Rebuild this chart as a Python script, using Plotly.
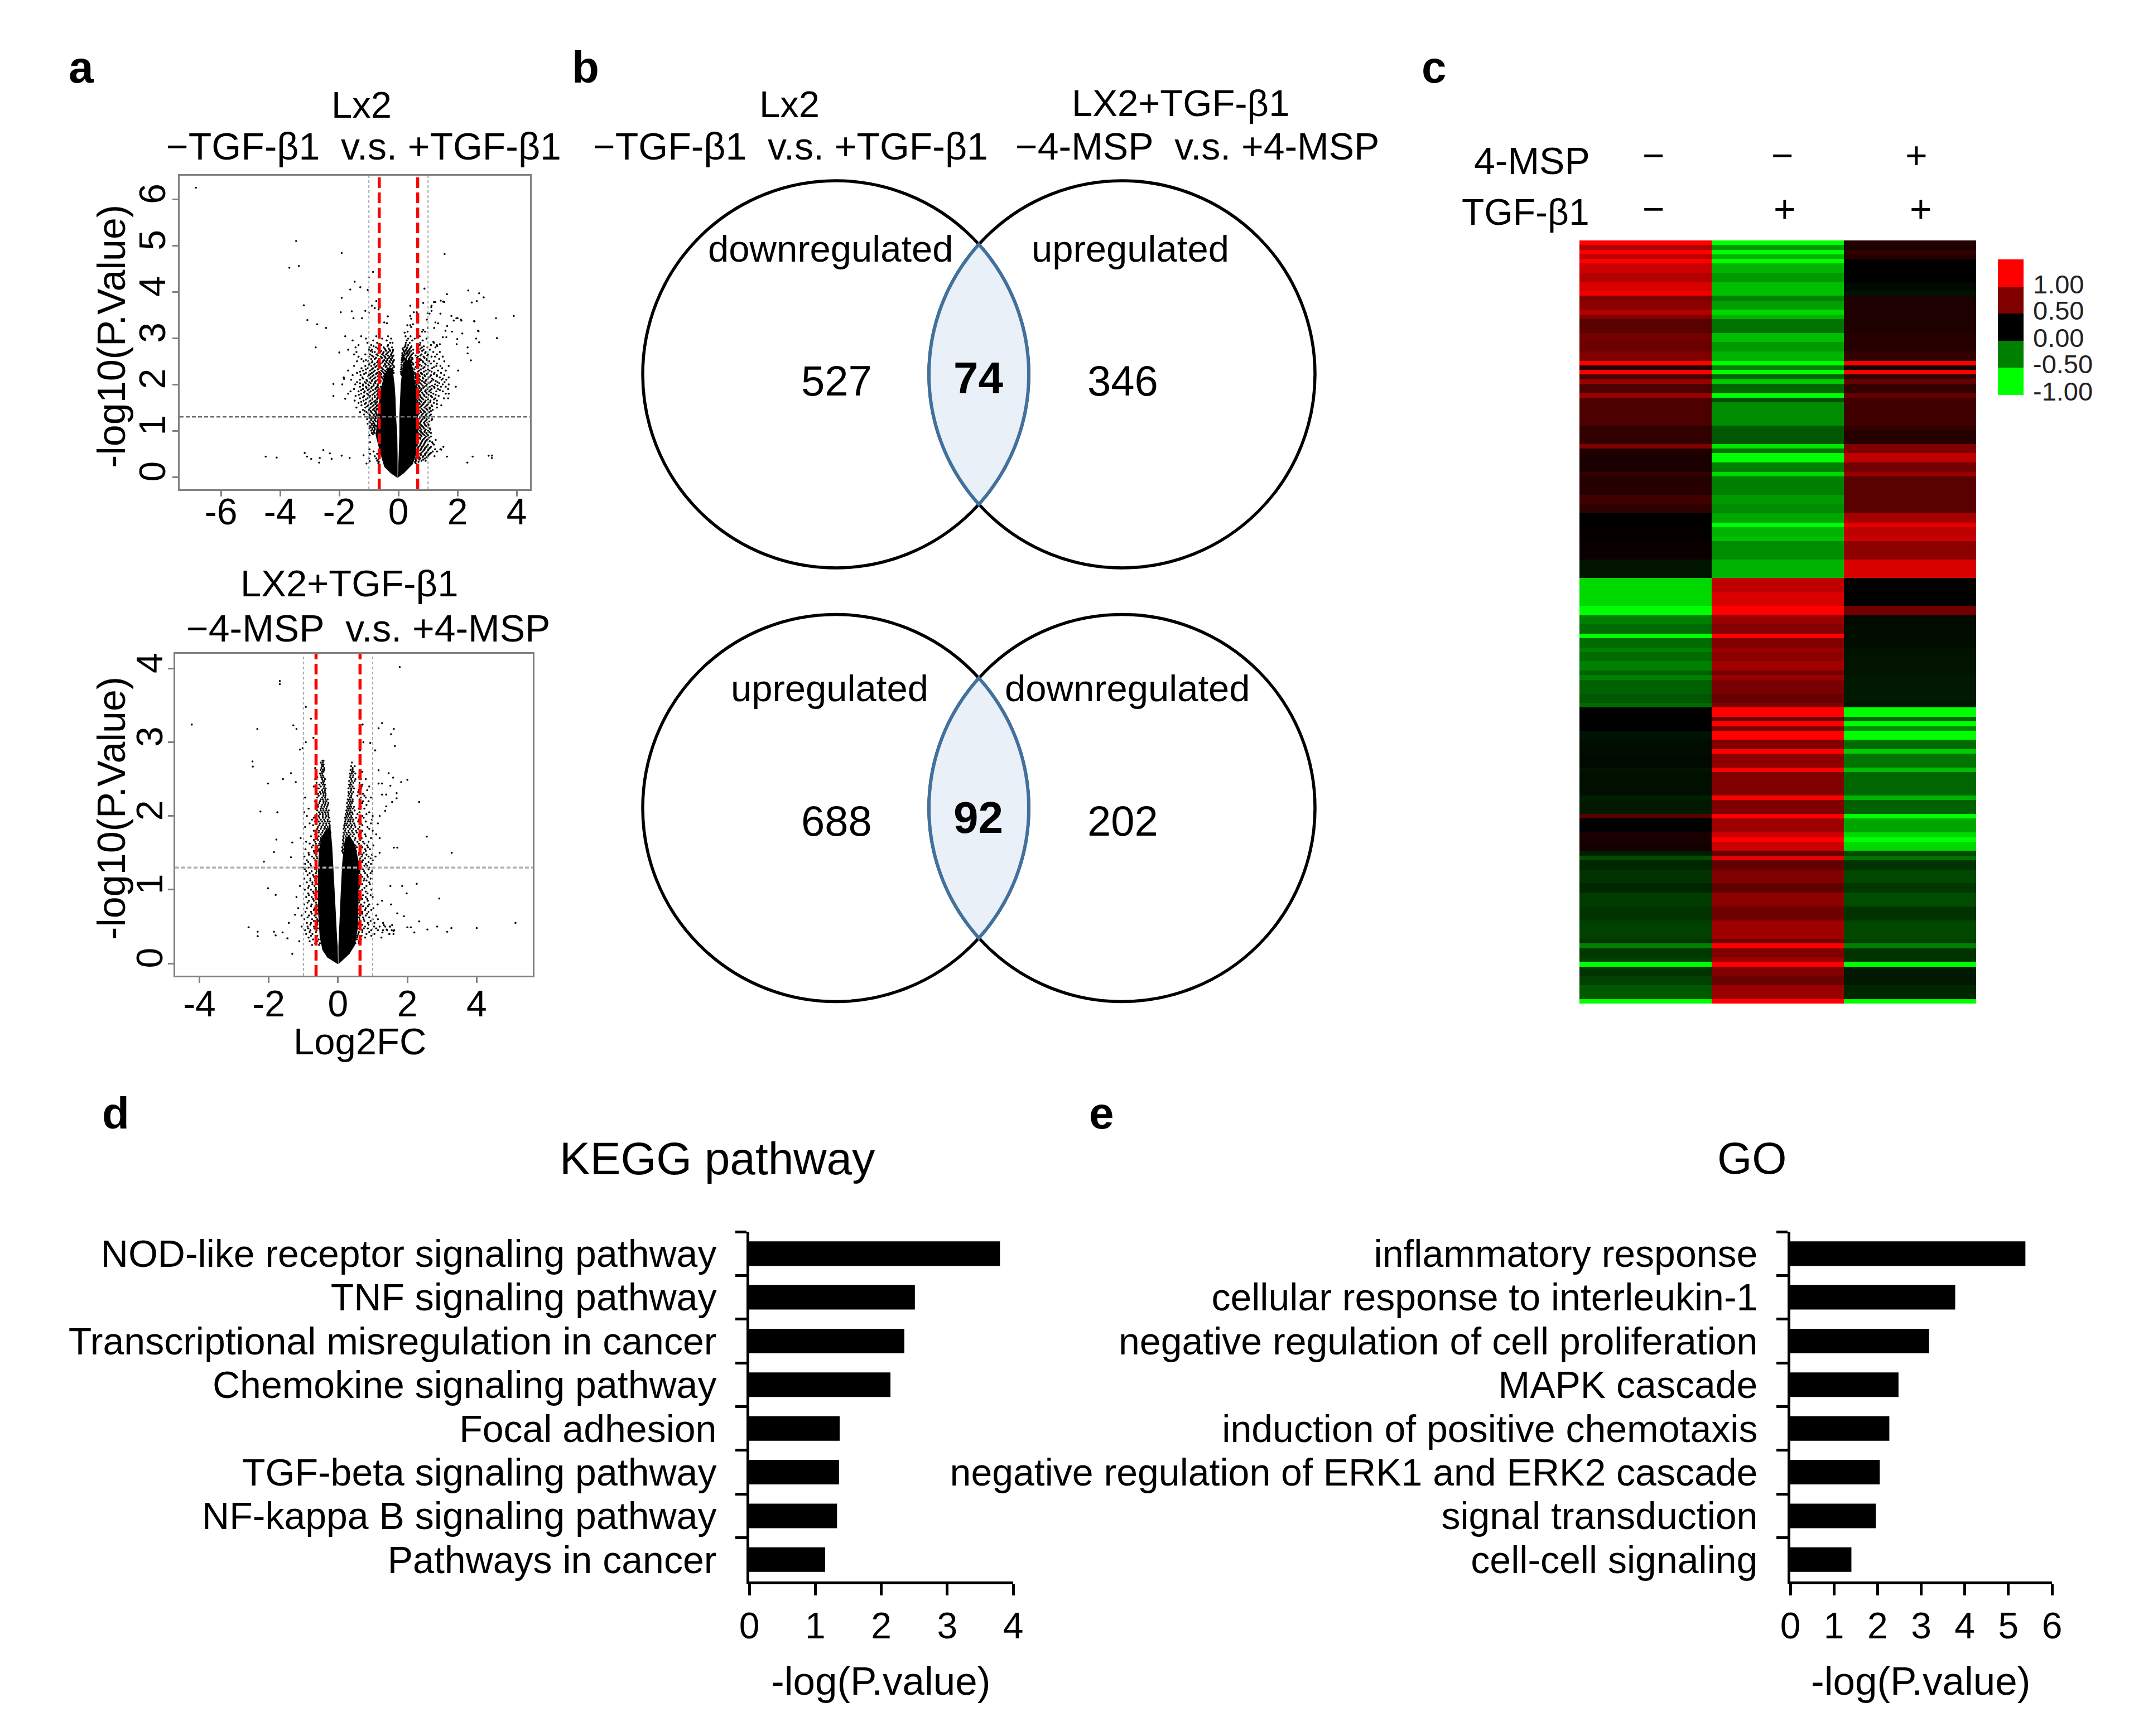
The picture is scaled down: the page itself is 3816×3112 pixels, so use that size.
import numpy as np
import plotly.graph_objects as go

W, H = 3816, 3112
FONT = "Liberation Sans"

# ---------- panel a volcano: -log10(P) rows, each with the log2FC values read at that level
a_outliers = [(-6.85,6.25),(-3.46,5.10),(-1.92,4.84),(1.56,4.82),(-3.69,4.52),(-3.37,4.56),(-.86,4.43),(-1.0,4.31),
 (-1.48,4.22),(-1.29,4.10),(-1.63,4.05),(-1.04,4.04),(-1.92,3.87),(-3.2,3.71),(.88,4.07),(1.64,3.95),(2.36,4.03),
 (2.73,3.97),(2.88,3.88),(2.65,3.80),(2.48,3.77),(1.51,3.79),(1.2,3.78),(1.11,3.67),(1.05,3.53),(1.79,3.48),(1.96,3.43),
 (2.11,3.40),(2.56,3.37),(3.3,3.43),(3.9,3.48),(3.33,3.0),(2.71,3.15),(2.63,2.99),(2.73,2.91),(2.34,2.8),(2.34,2.67),
 (2.45,2.52),(-3.08,3.39),(-2.75,3.30),(-2.45,3.22),(-2.8,2.8),(-2.0,2.69),(-1.8,3.04),(-1.95,3.56),(-1.58,3.58),
 (-1.52,3.43),(-1.12,3.59),(-1.23,3.43),(-2.2,2.01),(-2.2,1.75),(-1.84,2.12),(-1.8,1.69),(1.94,1.95),(2.02,2.3),
 (-4.49,.44),(-4.12,.42),(-3.17,.52),(-3.09,.44),(-2.95,.39),(-2.68,.31),(-2.66,.41),(-2.54,.58),(-2.32,.51),(-2.26,.39),
 (-1.92,.46),(-1.65,.41),(-1.18,.47),(-1.08,.29),(-.97,.34),(2.33,.31),(2.51,.44),(3.05,.46),(3.16,.46),(3.16,.41),
 (1.64,.44),(1.45,.59),(-.67,3.62),(-.36,3.47),(-.39,3.32),(-.48,3.34),(.40,3.7),(.40,3.48),(.43,3.42),(.52,3.56),(.62,3.56),
 (.30,3.28),(.40,3.28),(.49,3.30),(.43,3.24),(.21,3.12),(.31,3.14),(.84,3.18),(.9,3.14),(.8,3.14),(1.12,3.7),(1.12,3.59),
 (.84,3.76),(1.25,3.78),(1.43,3.81),(1.55,3.78),(1.42,3.53),(1.25,3.34),(1.34,3.32),(1.21,3.22),(1.65,3.26),(1.87,3.38),
 (2.0,3.43),(2.13,3.38),(1.81,3.14),(2.16,3.1),(1.59,3.16),(1.5,3.02),(1.62,3.02),(2.57,3.36),(2.69,3.16),(1.99,2.98),
 (1.97,2.87),(1.18,2.92),(1.4,2.87),(1.31,2.83),(.99,3.22),(.99,3.54),(.96,3.4),(-.9,3.7),(-.8,3.65),(-.75,3.8),(-1.0,3.55)]
a_rows = {
 3.04:[-1.26,-.75,-.35,.24,.41,.72],2.99:[-1.1,-.55,-.25,.33,.55,.95],
 2.95:[-1.55,-.85,-.4,.28,.47,.82],2.9:[-1.05,-.72,-.28,-.2,.25,.38,.74,1.2],
 2.85:[-1.35,-.92,-.58,-.35,.24,.33,.72,1.1,1.3],2.8:[-1.45,-.98,-.76,-.5,-.22,.2,.3,.42,.8,.98,1.25],
 2.75:[-1.7,-1.0,-.9,-.65,-.44,-.3,-.18,.16,.26,.36,.5,.68,.85,1.06],2.7:[-1.42,-.88,-.8,-.62,-.5,-.34,-.2,.2,.3,.38,.7,.92,1.18,1.4],
 2.65:[-1.5,-1.12,-.96,-.74,-.55,-.42,-.25,.15,.24,.34,.45,.78,1.0,1.3],2.6:[-1.35,-1.0,-.85,-.6,-.46,-.3,-.2,.16,.28,.4,.66,.85,1.12,1.24,1.5],
 2.55:[-1.25,-.92,-.8,-.66,-.38,-.26,.15,.22,.35,.48,.72,.95,1.38],2.5:[-1.4,-1.18,-1.02,-.88,-.7,-.52,-.42,-.3,-.18,.14,.24,.32,.42,.7,.82,1.04,1.2,1.55],
 2.45:[-.98,-.8,-.6,-.46,-.34,-.22,.18,.28,.38,.5,.65,.9,1.1,1.3],2.4:[-1.5,-1.12,-.92,-.74,-.5,-.4,-.26,-.16,.16,.22,.34,.44,.68,.78,1.0,1.28,1.42,1.7],
 2.35:[-1.25,-1.03,-.86,-.66,-.55,-.36,-.2,.12,.3,.48,.62,.84,1.14,1.48],2.3:[-1.7,-1.2,-.96,-.8,-.58,-.46,-.3,-.18,.14,.26,.4,.7,.92,1.05,1.34,1.6],
 2.25:[-1.4,-1.1,-.9,-.72,-.62,-.5,-.35,-.16,.1,.2,.55,.76,1.0,1.22,1.44],2.2:[-1.55,-1.28,-1.0,-.84,-.66,-.44,-.28,.12,.6,.7,.88,1.1,1.3,1.55],
 2.15:[-1.85,-1.22,-.94,-.78,-.56,.58,.66,.82,1.02,1.4,1.7],2.1:[-1.6,-1.3,-1.08,-.88,-.7,-.5,.64,.74,.94,1.18,1.46,1.62],
 2.05:[-1.4,-1.14,-.98,-.8,-.62,.6,.7,.86,1.08,1.32,1.56],2.0:[-1.9,-1.46,-1.2,-1.02,-.84,-.7,.62,.78,.96,1.24,1.5,1.7],
 1.95:[-1.3,-1.1,-.9,-.72,-.6,.6,.7,.88,1.06,1.2,1.44,1.6],1.9:[-1.5,-1.2,-1.0,-.78,-.66,.64,.78,.98,1.12,1.34,1.68],
 1.85:[-1.62,-1.35,-1.14,-.94,-.74,.62,.72,.9,1.04,1.28,1.5],1.8:[-1.7,-1.26,-1.06,-.84,-.7,.66,.82,.96,1.18,1.6,1.7],
 1.75:[-1.45,-1.16,-.96,-.8,.62,.74,.88,1.1,1.36],1.7:[-1.3,-1.04,-.88,-.72,.68,.8,1.0,1.24,1.54,1.68],
 1.65:[-1.48,-1.18,-.95,-.78,.64,.74,.92,1.08,1.3],1.6:[-1.35,-1.1,-.9,-.76,.6,.7,.86,1.02,1.2],
 1.55:[-1.25,-1.02,-.84,-.72,.66,.8,.96,1.12,1.45],1.5:[-1.42,-1.12,-.94,-.78,.62,.72,.88,1.06,1.3],
 1.45:[-1.2,-1.0,-.86,-.74,.68,.82,.98,1.16],1.4:[-1.3,-1.08,-.92,-.76,.64,.76,.9,1.04],
 1.35:[-1.16,-.98,-.82,-.72,.66,.8,.94,1.1],1.3:[-1.0,-.9,-.78,.62,.74,.86,1.0],
 1.25:[-1.06,-.92,-.8,.68,.82,.96,1.14],1.2:[-.98,-.86,-.76,.64,.76,.9,1.04],
 1.15:[-1.04,-.9,-.82,.62,.72,.88,1.0],1.1:[-.96,-.84,-.76,.68,.8,.94],
 1.05:[-.98,-.88,-.8,.64,.74,.86,1.06],1.0:[-.92,-.82,.62,.72,.9,1.0],
 .95:[-.9,-.8,.66,.8,.94,1.1],.9:[-.98,.64,.76,.88,1.0],.85:[.62,.72,.9,1.04],.8:[.66,.82,.96,1.26],
 .75:[-.96,.64,.78,.9,1.14],.7:[.62,.74,.86,1.0,1.2],.65:[.68,.8,.94,1.1,1.52],.6:[-.98,.64,.76,.88,1.02,1.24,1.42],
 .55:[-.84,.66,.82,.98,1.16,1.3],.5:[-.72,-.96,.62,.74,.9,1.06],.45:[-.8,-.66,.68,.84,1.0,1.22],
 .4:[-1.0,-.75,.6,.74,.9],.35:[-.72,.6,.78,.92],.3:[-.68,.58]}
a_rows_between = {
 2.825:[-.84,-.37,.23,.44,.86],2.775:[-.7,-.47,-.33,.14,.28,.39,.75],
 2.725:[-.94,-.58,-.42,-.28,-.19,.18,.24,.33,.43,.62,.8],2.675:[-.68,-.52,-.38,-.23,.13,.21,.29,.37,.5,.9],
 2.625:[-.9,-.7,-.5,-.36,-.24,-.17,.13,.2,.32,.42,.58,.74,.98],2.575:[-.76,-.56,-.44,-.32,-.21,.12,.19,.27,.38,.46,.62,.88],
 2.525:[-1.1,-.64,-.48,-.37,-.24,-.15,.11,.18,.26,.35,.44,.76,.96],2.475:[-.9,-.72,-.54,-.4,-.28,-.19,.11,.2,.3,.4,.46,.6,.84],
 2.425:[-1.0,-.82,-.68,-.45,-.32,-.2,.1,.17,.25,.37,.5,.72,.92],2.375:[-.78,-.6,-.43,-.29,-.15,.1,.18,.28,.4,.58,.88,1.2],
 2.325:[-1.1,-.9,-.7,-.52,-.38,-.22,.09,.2,.32,.54,.76,1.0],2.275:[-1.3,-.84,-.66,-.54,-.42,-.24,.08,.16,.5,.66,.86,1.12],
 2.225:[-1.16,-.95,-.76,-.58,-.47,-.3,.09,.56,.64,.8,.96,1.2],2.175:[-1.02,-.88,-.7,-.6,-.5,-.36,.58,.72,.9,1.08,1.3],
 2.125:[-1.2,-.96,-.82,-.64,-.54,.6,.7,.84,1.0,1.14,1.5],2.075:[-1.06,-.9,-.76,-.6,.58,.68,.8,.92,1.12,1.26],
 2.025:[-1.3,-1.1,-.94,-.78,-.66,.56,.66,.74,.9,1.02,1.38],1.975:[-1.2,-1.0,-.84,-.7,.58,.68,.82,.94,1.14,1.32],
 1.925:[-1.08,-.92,-.76,-.68,.62,.72,.84,1.0,1.22],1.875:[-1.26,-1.04,-.86,-.7,.6,.76,.92,1.08,1.4],
 1.825:[-1.16,-.98,-.8,-.68,.6,.7,.8,.94,1.1],1.775:[-1.34,-1.02,-.88,-.72,.64,.72,.86,1.02,1.26],
 1.725:[-1.2,-.98,-.8,-.7,.62,.76,.94,1.14],1.675:[-1.1,-.88,-.72,.6,.7,.84,1.0,1.2],1.625:[-1.26,-1.0,-.82,-.72,.64,.78,.9,1.08],
 1.575:[-1.14,-.94,-.78,.62,.72,.84,1.0,1.3],1.525:[-1.06,-.88,-.74,.64,.76,.92,1.14],1.475:[-.98,-.82,-.72,.62,.78,.94,1.06],
 1.425:[-1.14,-.94,-.8,.66,.74,.86,1.1],1.375:[-1.02,-.88,-.76,.62,.7,.84,.98],1.325:[-.96,-.84,-.74,.64,.78,.92,1.06],
 1.275:[-.98,-.86,-.76,.62,.72,.88,1.02],1.225:[-.92,-.8,.66,.78,.94,1.12],1.175:[-.96,-.84,.62,.74,.86,.98],
 1.125:[-.9,-.8,.66,.76,.9,1.02],1.075:[-.94,-.82,.62,.72,.84,1.0],1.025:[-.88,-.8,.66,.78,.92,1.08],.975:[-.84,.64,.76,.88,1.04],
 .925:[-.86,.62,.72,.84,.98],.875:[.66,.78,.94,1.1],.825:[.62,.74,.86,1.0],.775:[.66,.8,.92,1.06],.725:[.64,.76,.88,1.16],
 .675:[.62,.72,.84,.98],.625:[.66,.78,.9,1.06],.575:[.64,.74,.86,1.0],.525:[.62,.78,.94,1.1],.475:[.64,.76,.9,1.02],
 .425:[.6,.7,.82,.96],.375:[-.68,.58,.7,.84],.325:[-.66,.56,.68]}
# outline of the solid black core of each wing
a_core_left = [(-.03,-.02),(-.26,.08),(-.48,.22),(-.61,.50),(-.77,.90),(-.70,1.31),(-.64,1.71),(-.58,1.95),(-.48,2.2),(-.35,2.35),(-.2,2.35),(-.13,2.0),(-.1,1.71),(-.08,1.31),(-.04,.90),(-.03,.50),(-.03,.14)]
a_core_right = [(-.01,.14),(.01,.5),(.03,.9),(.03,1.31),(.05,1.71),(.08,2.03),(.14,2.35),(.22,2.5),(.4,2.55),(.52,2.25),(.6,1.85),(.62,1.31),(.62,.9),(.6,.5),(.49,.28),(.18,.08),(-.03,-.02)]

# ---------- panel a lower volcano
b_outliers = [(-4.22,3.24),(-2.33,3.18),(-1.68,3.83),(-1.68,3.79),(1.78,4.02),(-1.29,3.23),(-1.2,3.18),(-.93,3.48),(-.78,3.32),
 (-2.47,2.74),(-2.46,2.67),(-.93,3.0),(-1.02,2.92),(-1.1,2.9),(-.71,3.06),(-2.02,2.44),(-1.59,2.5),(-1.36,2.58),(-1.22,2.46),
 (-2.24,2.06),(-1.75,2.05),(1.27,3.26),(1.17,3.19),(1.61,3.18),(1.53,3.11),(1.64,2.95),(.93,2.99),(.73,3.0),(.71,3.24),(1.07,2.89),(.63,2.89),
 (1.17,2.62),(1.46,2.58),(1.59,2.52),(2.0,2.49),(1.82,2.46),(1.17,2.44),(1.27,2.44),(1.51,2.41),(1.27,2.29),(1.39,2.29),(1.69,2.31),
 (1.69,2.24),(1.56,2.19),(2.34,2.19),(1.39,2.13),(1.36,2.07),(2.56,1.72),(3.28,1.5),(1.61,1.57),(1.71,1.57),(-2.14,1.38),(-1.85,1.51),
 (-1.78,1.68),(-1.32,1.64),(-1.36,1.44),(-2.02,1.02),(-1.8,.93),(2.27,1.08),(1.85,1.05),(1.98,.95),(2.92,.88),(1.51,1.05),(1.27,.85),
 (1.53,.8),(1.71,.68),(1.9,.64),(2.58,.46),(-2.58,.49),(-2.32,.43),(-2.32,.37),(-1.8,.38),(-1.85,.43),(-1.6,.42),(-1.46,.34),(-1.12,.3),
 (-1.32,.13),(-1.42,.55),(-1.24,.66),(2.34,.57),(2.0,.49),(2.1,.49),(2.2,.42),(2.86,.5),(3.15,.43),(3.27,.48),(4.0,.48),(5.12,.55),
 (1.4,.46),(1.5,.5),(1.6,.44),(1.32,.52),(1.28,.42),(1.48,.4),(1.56,.52)]
b_rows = {
 2.75:[-.45,-.42],2.7:[-.62,-.47,-.42],2.65:[-.48,-.4,-.66,.42],2.6:[-.64,-.46,-.42,.4,.45,.7],2.55:[-.5,-.44,.36,.44],
 2.5:[-.66,-.46,-.38,.38,.5,.66,.8],2.45:[-.62,-.48,-.42,.36,.44,.62],2.4:[-.7,-.5,-.4,.34,.42,.68,.9],2.35:[-.62,-.46,-.38,.38,.6,.84],
 2.3:[-.58,-.5,-.42,-.36,.32,.4,.62,.72],2.25:[-.95,-.6,-.46,-.38,.34,.38,.66,.8,.95],2.2:[-.66,-.52,-.42,-.34,.3,.36,.42,.72,.88],
 2.15:[-.58,-.46,-.38,-.3,.3,.36,.64,.82],2.1:[-.85,-.62,-.5,-.44,-.34,.28,.34,.42,.6,.76],2.05:[-.98,-.55,-.46,-.38,-.3,.26,.34,.4,.62,.9],
 2.0:[-.9,-.66,-.56,-.44,-.34,-.28,.24,.3,.38,.7,1.0,1.2],1.95:[-.75,-.6,-.5,-.4,-.3,.22,.3,.36,.44,.6,.98],
 1.9:[-.82,-.62,-.52,-.42,-.34,-.26,.2,.26,.36,.46,.66,.95,1.15],1.85:[-.95,-.58,-.48,-.38,-.3,-.24,.18,.28,.38,.5,.62,.85],
 1.8:[-.7,-.55,-.44,-.32,-.26,.2,.3,.4,.52,.7,1.0],1.75:[-.66,-.5,-.4,-.3,-.24,.18,.26,.36,.46,.6,.78,1.1],
 1.7:[-1.08,-.6,-.5,-.38,-.24,.16,.24,.34,.5,.68,.95,1.2],1.65:[-.92,-.66,-.52,-.42,-.3,.16,.28,.42,.56,.72,.88],
 1.6:[-.72,-.56,.16,.22,.38,.5,.66,.84,1.02],1.55:[-.94,-.62,-.56,.14,.3,.46,.62,.78,.92],1.5:[-.85,-.68,.14,.26,.44,.6,.74,1.2],
 1.45:[-.97,-.75,-.62,.52,.68,.88,1.08],1.4:[-.9,-.66,.62,.72,1.0],1.35:[-.95,-.8,-.62,.62,.8,.95],1.3:[-1.0,-.85,-.7,.66,.9],
 1.25:[-.92,-.76,-.62,.62,.75,.98],1.2:[-.88,-.72,.66,.84],1.15:[-.98,-.8,-.66,.62,.76,.94],1.1:[-.9,-.74,.64,.9],
 1.05:[-1.1,-.84,-.68,.62,.82],1.0:[-.96,-.78,-.64,.7,.96],.95:[-.86,-.7,.62,.85],.9:[-1.2,-.92,-.76,-.64,.66,.8,1.0],
 .85:[-.84,-.7,.62,.86],.8:[-.98,-.76,-.62,.66,.9,1.14],.75:[-1.15,-.9,-.68,.62,.8,1.02],.7:[-.94,-.78,-.62,.7,.88],
 .65:[-1.05,-.84,-.68,.64,.8,1.1],.6:[-.98,-.75,-.6,.62,.74,1.0,1.15],.55:[-.9,-.78,-.6,.6,.86,1.05,1.3],
 .5:[-1.05,-.88,-.7,.62,.78,1.04,1.2,1.36,1.5],.45:[-.95,-.8,-.62,.7,.96,1.15,1.3,1.42,1.55,1.62],.4:[-.92,-.74,.58,.82,1.05,1.48,1.6],
 .35:[-.85,-.65,.55,.78,1.25],.3:[-.82,-.6,.6],.25:[-.75,-.55]}
b_rows_between = {
 2.725:[-.5,-.44,.4],2.675:[-.46,-.43,.38,.48],2.625:[-.5,-.44,-.4,.36,.42],2.575:[-.52,-.46,.34,.4,.5],2.525:[-.6,-.48,-.42,.34,.42,.6],
 2.475:[-.44,-.4,.32,.4,.48],2.425:[-.54,-.44,-.38,.32,.38,.7],2.375:[-.56,-.42,-.36,.3,.38,.46,.66],2.325:[-.52,-.44,-.38,.3,.36,.44,.58],
 2.275:[-.56,-.42,-.36,.3,.38,.56,.76],2.225:[-.5,-.44,-.36,-.3,.28,.34,.42,.62],2.175:[-.54,-.42,-.36,-.28,.26,.34,.4,.7],
 2.125:[-.58,-.48,-.4,-.32,.26,.32,.38,.46,.66],2.075:[-.6,-.5,-.42,-.34,-.27,.24,.3,.36,.48],2.025:[-.62,-.52,-.44,-.36,-.28,.22,.28,.34,.42,.56,.82],
 1.975:[-.7,-.54,-.44,-.36,-.26,.2,.26,.34,.4,.52,.74],1.925:[-.66,-.56,-.46,-.38,-.3,-.24,.2,.28,.34,.42,.58,.8],
 1.875:[-.72,-.54,-.44,-.34,-.24,.18,.24,.32,.4,.48,.7],1.825:[-.6,-.5,-.4,-.34,-.28,.16,.22,.34,.44,.58,.9],
 1.775:[-.64,-.56,-.46,-.36,-.22,.16,.24,.32,.42,.54,.66],1.725:[-.78,-.56,-.46,-.34,-.22,.15,.22,.3,.42,.6,.8],
 1.675:[-.7,-.58,-.5,.14,.22,.3,.38,.48,.64],1.625:[-.82,-.64,-.54,.14,.2,.34,.44,.6,.76],1.575:[-.76,-.6,.12,.2,.36,.54,.7,.86],
 1.525:[-.7,-.58,.12,.22,.52,.64,.8],1.475:[-.84,-.64,.6,.7,.82,.98],1.425:[-.7,-.6,.64,.78,.94],1.375:[-.86,-.64,.6,.7,.88],
 1.325:[-.78,-.62,.62,.76,.84],1.275:[-.96,-.66,.62,.72,.88],1.225:[-.82,-.64,.62,.78,.94],1.175:[-.7,-.6,.6,.7,.86],
 1.125:[-.8,-.66,.62,.74,.82],1.075:[-.74,-.6,.6,.7,.92],1.025:[-.86,-.64,.6,.76],.975:[-.72,-.6,.62,.8],.925:[-.84,-.66,.6,.72,.94],
 .875:[-.72,-.6,.6,.7,.84],.825:[-.88,-.64,.6,.76],.775:[-.78,-.6,.62,.72,.86],.725:[-.7,-.58,.6,.78,.96],.675:[-.76,-.6,.6,.7,.84],
 .625:[-.88,-.64,.6,.72,.9],.575:[-.7,-.58,.62,.76,.94],.525:[-.8,-.6,.6,.7,.88],.475:[-.86,-.68,-.58,.6,.74,.86,1.1],
 .425:[-.82,-.64,.6,.7,.9],.375:[-.78,-.6,.56,.68,.96],.325:[-.72,-.56,.54,.66],.275:[-.66,-.52,.5,.6]}
b_core_left = [(0,-.01),(-.31,.08),(-.45,.18),(-.53,.36),(-.58,.73),(-.58,1.24),(-.55,1.54),(-.48,1.7),(-.38,1.8),(-.22,1.85),(-.17,1.6),(-.15,1.44),(-.12,1.11),(-.07,.73),(-.03,.36),(-.01,.23)]
b_core_right = [(.01,.23),(.04,.61),(.08,.99),(.12,1.36),(.16,1.55),(.2,1.68),(.32,1.75),(.5,1.6),(.6,1.36),(.59,.86),(.57,.48),(.49,.25),(.33,.13),(.01,-.01)]

# ---------- panel b venn counts
venn_top_counts = ["527", "74", "346"]
venn_bottom_counts = ["688", "92", "202"]

# ---------- panel c heatmap: (rows, column 1, column 2, column 3)
heat_bands = [
 (1,1,-1,.15),(1,.7,-.6,.1),(1,1,-1,.2),(1,.75,-.7,.15),(1,1,-1,.02),(2,.8,-.7,0),(2,.7,-.6,0),(2,.85,-.75,-.04),(1,.95,-.75,-.08),
 (1,.5,-.5,.12),(2,.55,-.62,.12),(1,.7,-.85,.12),(1,.5,-.7,.12),(3,.35,-.45,.12),(2,.45,-.75,.15),(2,.42,-.6,.15),(2,.5,-.7,.2),
 (1,1,-1,1),(1,.15,-.5,.1),(1,1,-1,1),(1,.3,-.4,.2),(1,.6,-.8,.4),(2,.3,-.4,.2),(1,.6,-1,.4),(1,.3,-.3,.25),(2,.3,-.55,.25),
 (3,.3,-.55,.25),(1,.18,-.35,.2),(3,.2,-.35,.15),(1,.5,-.9,.5),(1,.12,-.45,.5),(2,.1,-1,.75),(2,.1,-.5,.45),(1,.2,-.85,.6),
 (4,.15,-.5,.35),(2,.25,-.6,.35),(2,.18,-.55,.35),(2,0,-.65,.65),(1,0,-1,.9),(2,.02,-.7,.75),(1,.02,-.75,.8),(4,.04,-.55,.55),(4,-.08,-.7,.85),
 (3,-.85,.75,.02),(3,-.85,.85,0),(2,-1,1,.45),(2,-.5,.6,-.04),(2,-.42,.52,-.05),(1,-1,1,-.05),(2,-.42,.5,-.05),(1,-.5,.6,-.07),(2,-.42,.55,-.08),
 (2,-.5,.63,-.08),(1,-.38,.45,-.08),(1,-.5,.6,-.1),(3,-.38,.47,-.1),(2,-.35,.4,-.1),(1,-.42,.5,-.08),
 (2,0,1,-1),(1,0,.42,-.4),(1,0,1,-1),(1,0,.5,-.55),(2,-.07,1,-1),(2,-.05,.5,-.42),(1,-.05,1,-.8),(3,-.04,.55,-.45),(1,-.08,1,-.75),
 (5,-.06,.5,-.4),(1,-.12,1,-.7),(3,-.1,.5,-.38),(1,.35,1,-1),(3,0,.62,-.65),(1,.1,.8,-.85),(1,.1,1,-1),(2,.08,.8,-.85),(1,-.12,.4,-.3),
 (1,-.3,.9,-.45),(2,-.15,.4,-.2),(3,-.2,.5,-.28),(2,-.15,.38,-.22),(3,-.23,.55,-.3),(3,-.2,.43,-.2),(4,-.25,.62,-.28),(1,-.2,.45,-.25),
 (1,-.5,1,-.5),(2,-.22,.5,-.2),(1,-.25,.6,-.2),(1,-1,1,-1),(2,-.2,.5,-.1),(2,-.25,.42,-.1),(3,-.35,.6,-.15),(1,-1,1,-1)]
heat_legend_values = [1.0, 0.5, 0.0, -0.5, -1.0]
heat_legend_labels = ["1.00", "0.50", "0.00", "-0.50", "-1.00"]
msp_signs = ["−", "−", "+"]
tgf_signs = ["−", "+", "+"]

# ---------- panels d, e bars
kegg_terms = ["NOD-like receptor signaling pathway","TNF signaling pathway","Transcriptional misregulation in cancer",
 "Chemokine signaling pathway","Focal adhesion","TGF-beta signaling pathway","NF-kappa B signaling pathway","Pathways in cancer"]
kegg_values = [3.80, 2.51, 2.35, 2.14, 1.37, 1.36, 1.33, 1.15]
go_terms = ["inflammatory response","cellular response to interleukin-1","negative regulation of cell proliferation","MAPK cascade",
 "induction of positive chemotaxis","negative regulation of ERK1 and ERK2 cascade","signal transduction","cell-cell signaling"]
go_values = [5.39, 3.78, 3.18, 2.48, 2.27, 2.05, 1.96, 1.40]


def px(x): return x / W
def py(y): return 1 - y / H
def dom_x(a, b): return [a / W, b / W]
def dom_y(top, bottom): return [1 - bottom / H, 1 - top / H]

def flatten(outliers, *row_sets):
    xs = [p[0] for p in outliers]
    ys = [p[1] for p in outliers]
    for rows in row_sets:
        for level, vals in rows.items():
            xs += vals
            ys += [level] * len(vals)
    return xs, ys

fig = go.Figure()

def core(points, xa, ya):
    fig.add_trace(go.Scatter(x=[p[0] for p in points], y=[p[1] for p in points], xaxis=xa, yaxis=ya, mode="lines",
                             fill="toself", fillcolor="black", line=dict(width=0, color="black"), hoverinfo="skip"))

core(a_core_left, "x", "y"); core(a_core_right, "x", "y")
ax_, ay_ = flatten(a_outliers, a_rows, a_rows_between)
fig.add_trace(go.Scatter(x=ax_, y=ay_, xaxis="x", yaxis="y", mode="markers", marker=dict(size=3.6, color="black", line=dict(width=0))))
core(b_core_left, "x2", "y2"); core(b_core_right, "x2", "y2")
bx_, by_ = flatten(b_outliers, b_rows, b_rows_between)
fig.add_trace(go.Scatter(x=bx_, y=by_, xaxis="x2", yaxis="y2", mode="markers", marker=dict(size=3.6, color="black", line=dict(width=0))))

heat_z = []
for band in heat_bands:
    heat_z += [list(band[1:])] * band[0]
scale = [[0, "#00ff00"], [.5, "#000000"], [1, "#ff0000"]]
fig.add_trace(go.Heatmap(z=heat_z, xaxis="x3", yaxis="y3", zmin=-1, zmax=1, colorscale=scale, showscale=False, hoverinfo="skip"))
fig.add_trace(go.Heatmap(z=[[v] for v in heat_legend_values], xaxis="x4", yaxis="y4", zmin=-1, zmax=1, colorscale=scale, showscale=False, hoverinfo="skip"))

fig.add_trace(go.Bar(x=kegg_values, y=kegg_terms, orientation="h", xaxis="x5", yaxis="y5", marker=dict(color="black", line=dict(width=0)), width=.56))
fig.add_trace(go.Bar(x=go_values, y=go_terms, orientation="h", xaxis="x6", yaxis="y6", marker=dict(color="black", line=dict(width=0)), width=.56))

TICK = dict(family=FONT, size=66, color="black")
def volcano_x(dom, rng, vals, anchor, standoff):
    return dict(domain=dom, range=rng, tickvals=vals, ticktext=[str(v) for v in vals], anchor=anchor, showgrid=False, zeroline=False,
                showline=True, mirror=True, linecolor="#808080", linewidth=3, ticks="outside", ticklen=10, tickcolor="#808080", tickwidth=3,
                tickfont=TICK, ticklabelstandoff=standoff)
def volcano_y(dom, rng, vals, anchor, standoff):
    return dict(domain=dom, range=rng, tickvals=vals, anchor=anchor, showgrid=False, zeroline=False, showline=True, mirror=True, linecolor="#808080",
                linewidth=3, ticks="outside", ticklen=10, tickcolor="#808080", tickwidth=3, tickfont=TICK, tickangle=-90, ticklabelstandoff=standoff)

def bar_x(dom, rng, vals, anchor):
    return dict(domain=dom, range=rng, tickvals=vals, anchor=anchor, showgrid=False, zeroline=False, showline=True, linecolor="black", linewidth=5,
                ticks="outside", ticklen=20, tickcolor="black", tickwidth=5, tickfont=TICK, ticklabelstandoff=-2)
def bar_y(dom, terms, anchor):
    return dict(domain=dom, type="category", categoryorder="array", categoryarray=terms, range=[7.5, -.5], anchor=anchor, showgrid=False,
                zeroline=False, showline=True, linecolor="black", linewidth=5, ticks="outside", ticklen=20, tickcolor="black", tickwidth=5,
                tickson="boundaries", dtick=1, tickmode="linear", tick0=0, tickfont=dict(family=FONT, size=68, color="black"), ticklabelstandoff=40)

fig.update_layout(
    width=W, height=H, autosize=False, margin=dict(l=0, r=0, t=0, b=0, autoexpand=False), paper_bgcolor="white", plot_bgcolor="white",
    showlegend=False, hovermode=False, barmode="overlay", font=dict(family=FONT, size=66, color="black"),
    xaxis=volcano_x(dom_x(322, 950), [-7.4, 4.45], [-6, -4, -2, 0, 2, 4], "y", -29),
    yaxis=volcano_y(dom_y(315, 877), [-.265, 6.51], [0, 1, 2, 3, 4, 5, 6], "x", -13),
    xaxis2=volcano_x(dom_x(314, 955), [-4.70, 5.62], [-4, -2, 0, 2, 4], "y2", -19),
    yaxis2=volcano_y(dom_y(1172, 1749), [-.166, 4.2], [0, 1, 2, 3, 4], "x2", -16),
    xaxis3=dict(domain=dom_x(2831, 3542), anchor="y3", visible=False, range=[-.5, 2.5]),
    yaxis3=dict(domain=dom_y(431, 1799), anchor="x3", visible=False, range=[len(heat_z) - .5, -.5]),
    xaxis4=dict(domain=dom_x(3581, 3627), anchor="y4", visible=False),
    yaxis4=dict(domain=dom_y(465, 708), anchor="x4", visible=False, range=[4.5, -.5]),
    xaxis5=bar_x(dom_x(1343, 1816), [0, 4], [0, 1, 2, 3, 4], "y5"),
    yaxis5=bar_y(dom_y(2208, 2835), kegg_terms, "x5"),
    xaxis6=bar_x(dom_x(3209, 3678), [0, 6], [0, 1, 2, 3, 4, 5, 6], "y6"),
    yaxis6=bar_y(dom_y(2208, 2835), go_terms, "x6"),
)

shapes = []
for xa, ya, red, grey, hcol, hw in (("x", "y", .65, 1.0, "#707070", 2.5), ("x2", "y2", .635, 1.0, "#b0b0b0", 3.5)):
    for s in (-1, 1):
        shapes.append(dict(type="line", xref=xa, yref=f"{ya} domain", x0=s * grey, x1=s * grey, y0=0, y1=1,
                           line=dict(color="#a8a8a8", width=2, dash="5px,4px")))
    shapes.append(dict(type="line", xref=f"{xa} domain", yref=ya, x0=0, x1=1, y0=1.3, y1=1.3, line=dict(color=hcol, width=hw, dash="7px,4px")))
    for s in (-1, 1):
        shapes.append(dict(type="line", xref=xa, yref=f"{ya} domain", x0=s * red, x1=s * red, y0=0, y1=1,
                           line=dict(color="#ff0000", width=5.5, dash="19px,8px")))

# venn outlines and lens
for cy in (671, 1448.5):
    for cx in (1498, 2011):
        shapes.append(dict(type="circle", xref="paper", yref="paper", x0=px(cx - 346), x1=px(cx + 346), y0=py(cy + 347), y1=py(cy - 347),
                           line=dict(color="black", width=5.5), fillcolor="rgba(0,0,0,0)"))
    half = np.degrees(np.arccos(256.5 / 346))
    t1 = np.radians(np.linspace(-half, half, 60))
    t2 = np.radians(np.linspace(180 - half, 180 + half, 60))
    pts = [(1498 + 346 * np.cos(t), cy + 347 * np.sin(t)) for t in t1] + [(2011 + 346 * np.cos(t), cy + 347 * np.sin(t)) for t in t2]
    path = "M " + " L ".join(f"{px(a):.5f} {py(b):.5f}" for a, b in pts) + " Z"
    shapes.append(dict(type="path", xref="paper", yref="paper", path=path, fillcolor="#E9F0F8", line=dict(color="#41719C", width=6)))
fig.update_layout(shapes=shapes)

notes = []
def note(x, y, text, size=67, bold=False, anchor="center", angle=0, color="black"):
    notes.append(dict(xref="paper", yref="paper", x=px(x), y=py(y), text=f"<b>{text}</b>" if bold else text, showarrow=False, xanchor=anchor,
                      yanchor="middle", textangle=angle, font=dict(family=FONT, size=size, color=color)))

for t, x, y in (("a", 145, 120), ("b", 1049, 120), ("c", 2570, 120), ("d", 207, 1996), ("e", 1974, 1996)):
    note(x, y, t, size=80, bold=True)

SP = "\u00a0\u00a0"
note(648, 188, "Lx2"); note(652, 262, f"−TGF-β1{SP}v.s. +TGF-β1", size=68)
note(626, 1045, "LX2+TGF-β1"); note(660, 1126, f"−4-MSP{SP}v.s. +4-MSP", size=68)
note(200, 603, "-log10(P.Value)", size=70, angle=-90)
note(200, 1449, "-log10(P.Value)", size=70, angle=-90)
note(645, 1867, "Log2FC", size=67)

note(1415, 186, "Lx2"); note(1417, 262, f"−TGF-β1{SP}v.s. +TGF-β1", size=68)
note(2116, 184, "LX2+TGF-β1"); note(2146, 262, f"−4-MSP{SP}v.s. +4-MSP", size=68)
note(1489, 445, "downregulated"); note(2026, 445, "upregulated")
note(1487, 1233, "upregulated"); note(2021, 1233, "downregulated")
for counts, ys in ((venn_top_counts, (683, 677)), (venn_bottom_counts, (1471, 1465))):
    note(1499, ys[0], counts[0], size=76)
    note(1753, ys[1], counts[1], size=80, bold=True)
    note(2012, ys[0], counts[2], size=76)

note(2852, 288, "4-MSP", size=68, anchor="right")
note(2851, 380, "TGF-β1", size=66, anchor="right")
for s, x in zip(msp_signs, (2964, 3195, 3435)):
    note(x, 278, s, size=68)
for s, x in zip(tgf_signs, (2964, 3199, 3443)):
    note(x, 374, s, size=68)
for lab, y in zip(heat_legend_labels, (509, 556, 605, 652, 701)):
    note(3642, y, lab, size=47, anchor="left", color="#222222")

note(1285, 2076, "KEGG pathway", size=82)
note(3140, 2076, "GO", size=80)
note(1578, 3013, "-log(P.value)", size=71)
note(3442, 3013, "-log(P.value)", size=71)
fig.update_layout(annotations=notes)

fig.write_html("out.html", post_script="document.body.style.margin='0';", config=dict(displayModeBar=False))
